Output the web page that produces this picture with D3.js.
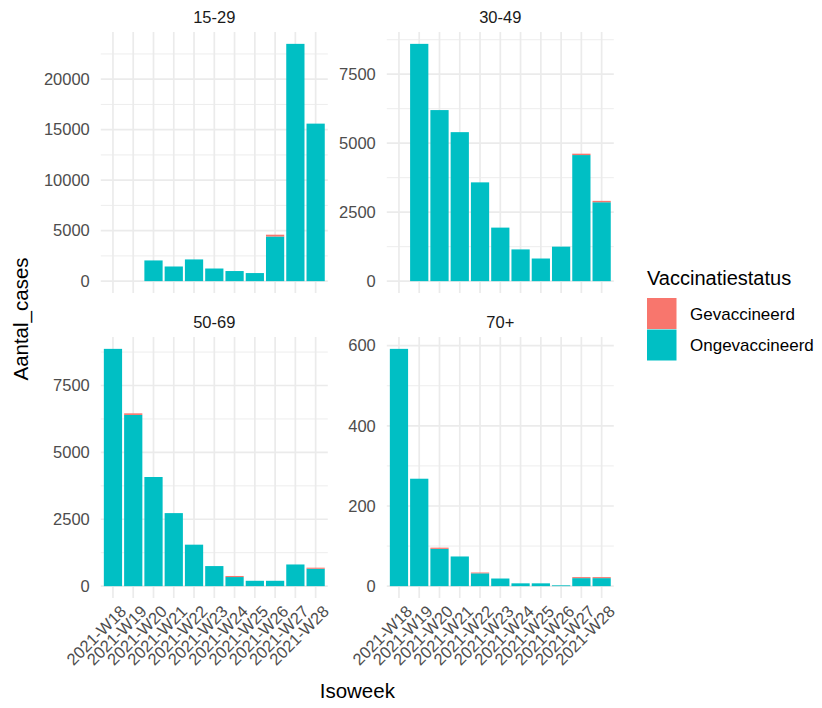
<!DOCTYPE html>
<html>
<head>
<meta charset="utf-8">
<script src="https://cdn.jsdelivr.net/npm/d3@7"></script>
<style>
  html, body { margin: 0; padding: 0; background: #ffffff; }
  svg { display: block; font-family: "Liberation Sans", Arial, Helvetica, sans-serif; }
</style>
</head>
<body>
<script>
// ---------- DATA ----------
const weeks = ["2021-W18","2021-W19","2021-W20","2021-W21","2021-W22","2021-W23","2021-W24","2021-W25","2021-W26","2021-W27","2021-W28"];
const ageGroups = ["15-29","30-49","50-69","70+"];
const statuses = ["Gevaccineerd","Ongevaccineerd"];

// Ongevaccineerd (unvaccinated) cases per week, per age group
const unvax_15_29 = [0, 0, 2050, 1450, 2150, 1250, 1000, 800, 4420, 23500, 15600];
const unvax_30_49 = [0, 8600, 6200, 5400, 3580, 1940, 1150, 820, 1250, 4570, 2860];
const unvax_50_69 = [8870, 6400, 4080, 2730, 1550, 750, 340, 200, 200, 810, 650];
const unvax_70p   = [592, 268, 93, 74, 32, 19, 7, 7, 2, 20, 20];

// Gevaccineerd (vaccinated) cases per week, per age group
const vax_15_29 = [0, 0, 0, 0, 0, 0, 0, 0, 180, 0, 0];
const vax_30_49 = [0, 0, 0, 0, 0, 0, 0, 0, 0, 50, 50];
const vax_50_69 = [0, 60, 0, 0, 0, 0, 40, 0, 0, 0, 40];
const vax_70p   = [0, 0, 3, 0, 2, 0, 0, 0, 0, 2.5, 2.5];

// y-axis tick labels per panel
const ticks_15_29 = [0, 5000, 10000, 15000, 20000];
const ticks_30_49 = [0, 2500, 5000, 7500];
const ticks_50_69 = [0, 2500, 5000, 7500];
const ticks_70p   = [0, 200, 400, 600];

const unvaxByGroup = [unvax_15_29, unvax_30_49, unvax_50_69, unvax_70p];
const vaxByGroup   = [vax_15_29, vax_30_49, vax_50_69, vax_70p];
const ticksByGroup = [ticks_15_29, ticks_30_49, ticks_50_69, ticks_70p];

// ---------- STYLE / LAYOUT ----------
const W = 822, H = 708;
const colVacc = "#F8766D", colUnvacc = "#00BFC4";
const gridCol = "#EBEBEB";
const panelX = [100.8, 386.8], panelY = [32, 337];
const panelW = 227, panelH = 261;
const tickFont = 16.5, titleFont = 20.5, stripFont = 16.5;

const color = d3.scaleOrdinal().domain(statuses).range([colVacc, colUnvacc]);

const svg = d3.select("body").append("svg")
  .attr("width", W).attr("height", H)
  .style("background", "#ffffff");

ageGroups.forEach((grp, i) => {
  const col = i % 2, row = Math.floor(i / 2);
  const x0 = panelX[col], y0 = panelY[row];

  const rows = weeks.map((wk, j) => ({
    week: wk,
    Ongevaccineerd: unvaxByGroup[i][j],
    Gevaccineerd: vaxByGroup[i][j]
  }));
  // stack: Ongevaccineerd at bottom, Gevaccineerd on top (ggplot default order)
  const stack = d3.stack().keys(["Ongevaccineerd", "Gevaccineerd"])(rows);
  const maxV = d3.max(rows, d => d.Ongevaccineerd + d.Gevaccineerd);

  const x = d3.scaleBand().domain(weeks).range([x0, x0 + panelW])
    .paddingInner(0.1).paddingOuter(0.15);
  const y = d3.scaleLinear().domain([-0.05 * maxV, 1.05 * maxV]).range([y0 + panelH, y0]);

  const g = svg.append("g");
  const majors = ticksByGroup[i];
  const step = majors[1] - majors[0];
  const minors = d3.range(majors[0] - step / 2, 1.05 * maxV, step)
    .filter(v => v >= y.domain()[0] && v <= y.domain()[1]);

  // minor horizontal grid
  g.selectAll(".minor").data(minors).join("line")
    .attr("x1", x0).attr("x2", x0 + panelW)
    .attr("y1", d => y(d)).attr("y2", d => y(d))
    .attr("stroke", gridCol).attr("stroke-width", 0.9);
  // major horizontal grid
  g.selectAll(".major").data(majors).join("line")
    .attr("x1", x0).attr("x2", x0 + panelW)
    .attr("y1", d => y(d)).attr("y2", d => y(d))
    .attr("stroke", gridCol).attr("stroke-width", 1.7);
  // vertical grid
  g.selectAll(".vgrid").data(weeks).join("line")
    .attr("x1", d => x(d) + x.bandwidth() / 2).attr("x2", d => x(d) + x.bandwidth() / 2)
    .attr("y1", y0).attr("y2", y0 + panelH)
    .attr("stroke", gridCol).attr("stroke-width", 1.7);

  // bars
  stack.forEach(layer => {
    g.append("g").attr("fill", color(layer.key))
      .selectAll("rect").data(layer.filter(d => d[1] - d[0] > 0)).join("rect")
      .attr("x", d => x(d.data.week))
      .attr("width", x.bandwidth())
      .attr("y", d => y(d[1]))
      .attr("height", d => y(d[0]) - y(d[1]));
  });

  // y axis (labels only, theme_minimal)
  const yAxis = d3.axisLeft(y).tickValues(majors).tickSize(0).tickPadding(11)
    .tickFormat(d3.format("d"));
  const ya = svg.append("g").attr("transform", `translate(${x0},0)`).call(yAxis);
  ya.select(".domain").remove();
  ya.selectAll("text").attr("fill", "#4D4D4D").style("font-size", tickFont + "px")
    .style("font-family", '"Liberation Sans", Arial, sans-serif');

  // x axis labels on bottom row only
  if (row === 1) {
    const xAxis = d3.axisBottom(x).tickSize(0).tickPadding(0);
    const xa = svg.append("g").attr("transform", `translate(0,${y0 + panelH})`).call(xAxis);
    xa.select(".domain").remove();
    xa.selectAll("text")
      .attr("fill", "#4D4D4D").style("font-size", tickFont + "px")
      .style("font-family", '"Liberation Sans", Arial, sans-serif')
      .attr("text-anchor", "end")
      .attr("y", null)
      .attr("transform", "translate(6,6) rotate(-45)")
      .attr("dy", "0.72em");
  }

  // strip title
  svg.append("text")
    .attr("x", x0 + panelW / 2).attr("y", y0 - 9)
    .attr("text-anchor", "middle")
    .attr("fill", "#1A1A1A").style("font-size", stripFont + "px")
    .text(grp);
});

// axis titles
svg.append("text")
  .attr("transform", `translate(28,${(panelY[0] + panelY[1] + panelH) / 2 + 4}) rotate(-90)`)
  .attr("text-anchor", "middle").attr("fill", "#000")
  .style("font-size", titleFont + "px")
  .text("Aantal_cases");

svg.append("text")
  .attr("x", (panelX[0] + panelX[1] + panelW) / 2).attr("y", 698)
  .attr("text-anchor", "middle").attr("fill", "#000")
  .style("font-size", titleFont + "px")
  .text("Isoweek");

// legend
const lg = svg.append("g").attr("transform", "translate(647,0)");
lg.append("text").attr("x", 0).attr("y", 285)
  .attr("fill", "#000").style("font-size", "20px").text("Vaccinatiestatus");
const keyH = 31.5, keyW = 29.5, keyTop = 298;
statuses.forEach((s, k) => {
  lg.append("rect").attr("x", 0).attr("y", keyTop + k * keyH)
    .attr("width", keyW).attr("height", keyH - 0.5).attr("fill", color(s));
  lg.append("text").attr("x", 43).attr("y", keyTop + k * keyH + keyH / 2)
    .attr("dy", "0.36em").attr("fill", "#000")
    .style("font-size", "17px").text(s);
});
</script>
</body>
</html>
